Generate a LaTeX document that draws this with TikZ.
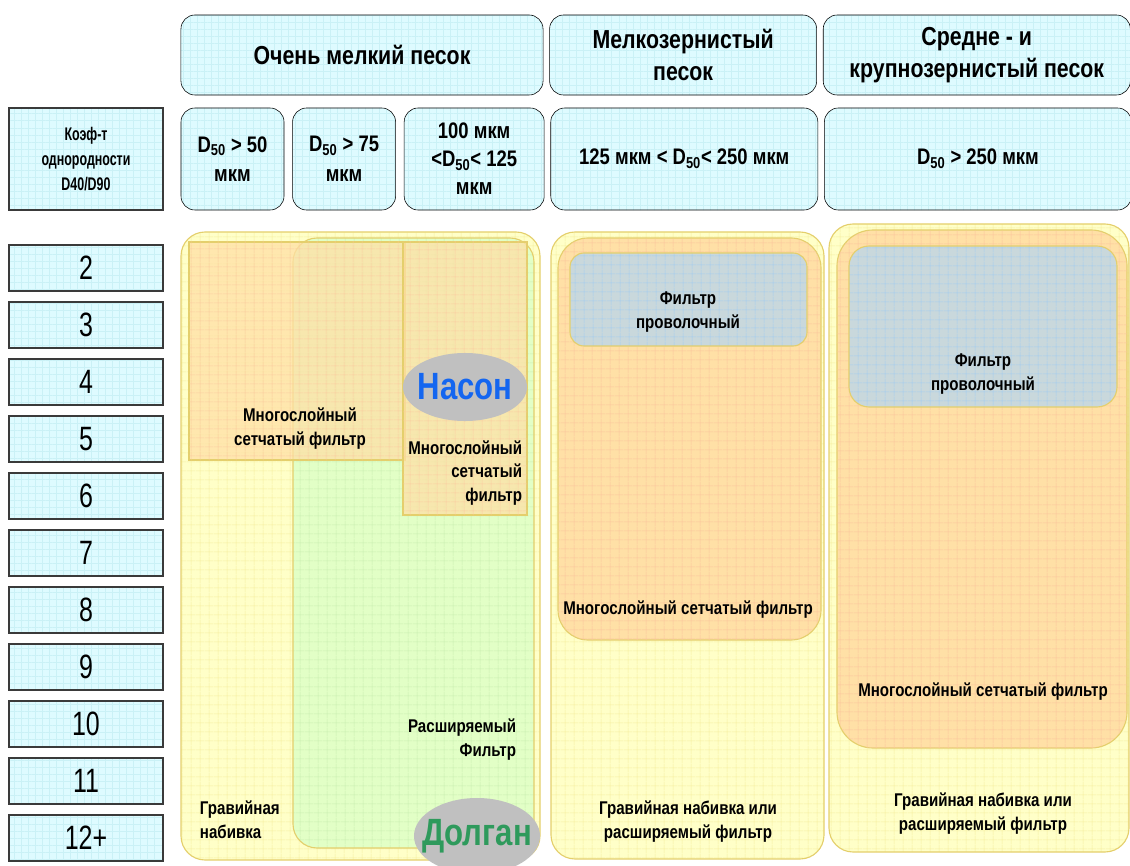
\documentclass[tikz,border=0pt]{standalone}
\usepackage{fontspec}
\setmainfont{Liberation Sans}[FakeStretch=0.82]
\newfontfamily\numfont{Liberation Sans}[FakeStretch=0.74]
\newfontfamily\koeffont{Liberation Sans}[FakeStretch=0.68]
\usetikzlibrary{positioning, shapes.geometric, patterns.meta}
\definecolor{colour_head}{HTML}{DEFBFF}
\definecolor{colour_headgrid}{HTML}{CAF1F6}
\definecolor{colour_edge}{HTML}{3A3A3A}
\definecolor{colour_gravel}{HTML}{FFFFC8}
\definecolor{colour_gravelgrid}{HTML}{F6EFA2}
\definecolor{colour_rim}{HTML}{E4CF6C}
\definecolor{colour_mesh}{HTML}{FFE0A6}
\definecolor{colour_meshgrid}{HTML}{FBC69C}
\definecolor{colour_exp}{HTML}{E2FFC6}
\definecolor{colour_expgrid}{HTML}{CBEFB2}
\definecolor{colour_wire}{HTML}{C9D8DC}
\definecolor{colour_wiregrid}{HTML}{A6CDEE}
\definecolor{colour_blob}{HTML}{C0C0C0}
\definecolor{colour_nason}{HTML}{1466F0}
\definecolor{colour_dolgan}{HTML}{2E9A5C}

\begin{document}
\begin{tikzpicture}[
    x=0.025cm, y=-0.025cm,
    head/.style={rectangle, draw=black, rounded corners=0.35cm,
                 preaction={fill=colour_head},
                 preaction={pattern={Hatch[angle=0, distance=5pt, line width=0.3pt]},
                            pattern color=colour_headgrid},
                 inner sep=0pt, align=center,
                 font=\bfseries\fontsize{18.5}{22.5}\selectfont},
    numbox/.style={rectangle, draw=colour_edge, line width=1pt, outer sep=0pt,
                   preaction={fill=colour_head},
                   preaction={pattern={Hatch[angle=0, distance=5pt, line width=0.3pt]},
                              pattern color=colour_headgrid},
                   minimum width=3.85cm, minimum height=1.15cm, inner sep=0pt,
                   font=\numfont\fontsize{24}{24}\selectfont},
    gravel/.style={draw=colour_rim, thick, rounded corners=0.6cm,
                   preaction={fill=colour_gravel},
                   preaction={pattern={Hatch[angle=0, distance=6.5pt, line width=0.4pt]},
                              pattern color=colour_gravelgrid}},
    mesh/.style={draw=colour_rim, thick, fill=colour_mesh, fill opacity=0.75,
                 postaction={pattern={Hatch[angle=0, distance=6.5pt, line width=0.4pt]},
                             pattern color=colour_meshgrid}},
    expand/.style={draw=colour_rim, thick, rounded corners=0.6cm,
                   preaction={fill=colour_exp},
                   preaction={pattern={Hatch[angle=0, distance=6.5pt, line width=0.4pt]},
                              pattern color=colour_expgrid}},
    wire/.style={draw=colour_rim, thick, rounded corners=0.35cm,
                 preaction={fill=colour_wire},
                 preaction={pattern={Hatch[angle=0, distance=6.5pt, line width=0.4pt]},
                            pattern color=colour_wiregrid}},
    blob/.style={ellipse, fill=colour_blob, inner sep=0pt,
                 font=\bfseries\fontsize{27}{27}\selectfont},
    txt/.style={font=\bfseries\fontsize{13.1}{17}\selectfont, align=center}
]
\useasboundingbox (0,0) rectangle (1130,866);

% Sand classes
\node[head, minimum width=9.05cm, minimum height=2cm] (vfine) at (362,55)
     {Очень мелкий песок};
\node[head, minimum width=6.675cm, minimum height=2cm, right=0.15cm of vfine] (fine)
     {Мелкозернистый\\песок};
\node[head, minimum width=7.675cm, minimum height=2cm, right=0.15cm of fine] (coarse)
     {Средне - и\\крупнозернистый песок};

% Grain size row
\node[numbox, minimum height=2.55cm, font=\koeffont\bfseries\fontsize{13}{17.5}\selectfont,
      align=center] (koef) at (86,159) {Коэф-т\\однородности\\D40/D90};
\node[head, minimum width=2.575cm, minimum height=2.55cm,
      font=\bfseries\fontsize{16}{21}\selectfont] (d50) at (232.5,159)
     {D\textsubscript{50} > 50\\мкм};
\node[head, minimum width=2.575cm, minimum height=2.55cm, right=0.2cm of d50,
      font=\bfseries\fontsize{16}{21}\selectfont] (d75)
     {D\textsubscript{50} > 75\\мкм};
\node[head, minimum width=3.5cm, minimum height=2.55cm, right=0.2cm of d75,
      font=\bfseries\fontsize{16}{20}\selectfont] (d100)
     {100 мкм\\<D\textsubscript{50}< 125\\мкм};
\node[head, minimum width=6.675cm, minimum height=2.55cm, right=0.15cm of d100,
      font=\bfseries\fontsize{16}{20}\selectfont] (d125)
     {125 мкм < D\textsubscript{50}< 250 мкм};
\node[head, minimum width=7.675cm, minimum height=2.55cm, right=0.15cm of d125,
      font=\bfseries\fontsize{16}{20}\selectfont] (d250)
     {D\textsubscript{50} > 250 мкм};

% Uniformity coefficient
\node[numbox] (n2) at (86,268) {2};
\node[numbox, below=0.275cm of n2] (n3) {3};
\node[numbox, below=0.275cm of n3] (n4) {4};
\node[numbox, below=0.275cm of n4] (n5) {5};
\node[numbox, below=0.275cm of n5] (n6) {6};
\node[numbox, below=0.275cm of n6] (n7) {7};
\node[numbox, below=0.275cm of n7] (n8) {8};
\node[numbox, below=0.275cm of n8] (n9) {9};
\node[numbox, below=0.275cm of n9] (n10) {10};
\node[numbox, below=0.275cm of n10] (n11) {11};
\node[numbox, below=0.275cm of n11] (n12) {12+};

% Very fine sand
\draw[gravel] (181,232) rectangle (540,860);
\draw[expand] (293,238) rectangle (534,848);
\draw[mesh] (189,242) rectangle (405,460);
\draw[mesh] (403,242) rectangle (527,515);
\node[blob, minimum width=3.1cm, minimum height=1.7cm, text=colour_nason] (nason)
     at (465,387) {\makebox[0pt]{Насон}};
\node[txt] (mesh1) at (300,429) {Многослойный\\сетчатый фильтр};
\node[txt, align=right, anchor=east] (mesh2) at (527,473) {Многослойный\\сетчатый\\фильтр};
\node[txt, align=right, anchor=east] (exp1) at (521,740) {Расширяемый\\Фильтр};
\node[txt, align=left, anchor=west] (grav1) at (195,820) {Гравийная\\набивка};
\node[blob, minimum width=3.15cm, minimum height=1.9cm, text=colour_dolgan] (dolgan)
     at (477,836) {\makebox[0pt]{Долган}};

% Fine sand
\draw[gravel] (551,232) rectangle (824,859);
\draw[mesh, fill opacity=1, rounded corners=0.75cm] (558,238) rectangle (821,640);
\draw[wire] (570,253) rectangle (807,346);
\node[txt] (wire2) at (688,312) {Фильтр\\проволочный};
\node[txt] (mesh3) at (688,610) {Многослойный сетчатый фильтр};
\node[txt] (grav2) at (688,822) {Гравийная набивка или\\расширяемый фильтр};

% Medium and coarse sand
\draw[gravel] (829,224) rectangle (1129,852);
\draw[mesh, fill opacity=1, rounded corners=0.9cm] (837,230) rectangle (1127,748);
\draw[wire, rounded corners=0.5cm] (849,246) rectangle (1117,407);
\node[txt] (wire3) at (983,374) {Фильтр\\проволочный};
\node[txt] (mesh4) at (983,692) {Многослойный сетчатый фильтр};
\node[txt] (grav3) at (983,814) {Гравийная набивка или\\расширяемый фильтр};

\end{tikzpicture}
\end{document}
